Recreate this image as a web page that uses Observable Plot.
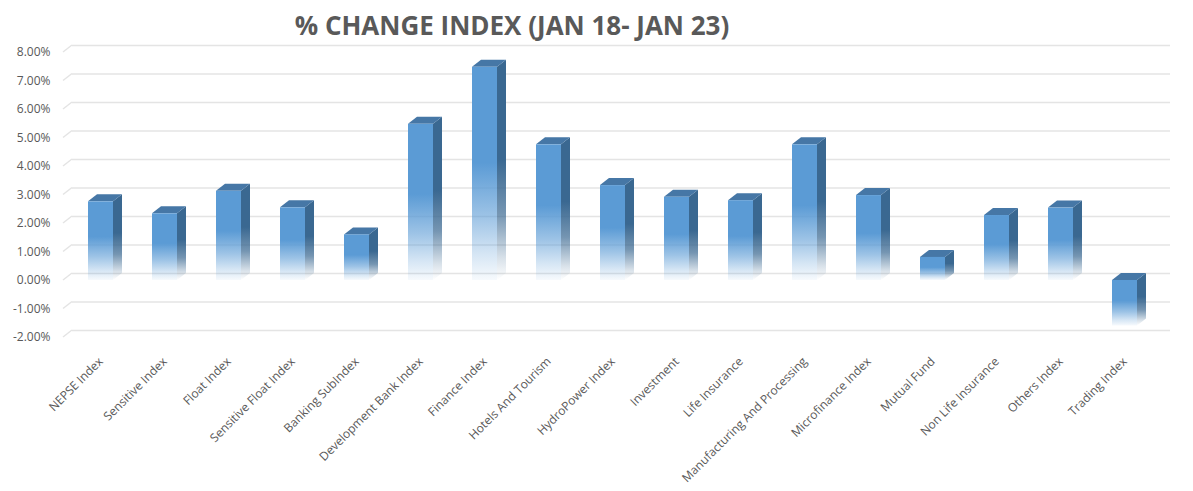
<!DOCTYPE html>
<html><head><meta charset="utf-8">
<script src="https://cdn.jsdelivr.net/npm/d3@7"></script>
<script src="https://cdn.jsdelivr.net/npm/@observablehq/plot@0.6"></script>
<style>
body{margin:0;background:#fff;font-family:"Open Sans",sans-serif;}
#wrap{position:relative;width:1193px;height:491px;overflow:hidden;}
#title{height:38px;position:relative;}
#title span{position:absolute;left:512px;top:9px;transform:translateX(-50%);font-weight:700;font-size:26px;line-height:32px;color:#595959;white-space:nowrap;}
</style></head><body>
<div id="wrap"><div id="title"><span>% CHANGE INDEX (JAN 18- JAN 23)</span></div><div id="chart"></div></div>
<script>
const categories = ["NEPSE Index","Sensitive Index","Float Index","Sensitive Float Index","Banking SubIndex","Development Bank Index","Finance Index","Hotels And Tourism","HydroPower Index","Investment","Life Insurance","Manufacturing And Processing","Microfinance Index","Mutual Fund","Non Life Insurance","Others Index","Trading Index"];
const values = [2.76, 2.34, 3.13, 2.55, 1.60, 5.48, 7.48, 4.76, 3.33, 2.92, 2.80, 4.76, 2.98, 0.81, 2.28, 2.54, -1.60];
const yTicks = [-2,-1,0,1,2,3,4,5,6,7,8];

const data = categories.map((c, i) => ({category: c, value: values[i]}));
const DX = 9, DY = -7;

function depthMark(index, scales, channels, dimensions) {
  const x = scales.x, y = scales.y;
  const n = categories.length;
  const bw = typeof x.bandwidth === "function" ? x.bandwidth()
    : (dimensions.width - dimensions.marginLeft - dimensions.marginRight) / n * 0.39;
  const g = d3.create("svg:g");
  const defs = g.append("defs");
  const fg = defs.append("linearGradient").attr("id","frontGrad").attr("x1",0).attr("y1",0).attr("x2",0).attr("y2",1);
  [[0,1],[0.45,1],[0.7,0.6],[0.88,0.25],[1,0.05]].forEach(([o,a]) => fg.append("stop").attr("offset",o).attr("stop-color","#5b9bd5").attr("stop-opacity",a));
  const sg = defs.append("linearGradient").attr("id","sideGrad").attr("x1",0).attr("y1",0).attr("x2",0).attr("y2",1);
  [[0,1],[0.45,1],[0.7,0.7],[0.9,0.2],[1,0.0]].forEach(([o,a]) => sg.append("stop").attr("offset",o).attr("stop-color","#3a6891").attr("stop-opacity",a));
  // left diagonals of the back-wall gridlines
  const ml = dimensions.marginLeft;
  for (const t of yTicks) {
    g.append("line").attr("x1", ml).attr("y1", y(t)).attr("x2", ml + DX).attr("y2", y(t) + DY)
      .attr("stroke", "#e4e4e4").attr("stroke-width", 1.5);
  }
  for (const d of data) {
    const x0 = x(d.category), x1 = x0 + bw;
    const yt = y(Math.max(d.value, 0)), yb = y(Math.min(d.value, 0));
    g.append("polygon")
      .attr("points", `${x1},${yt} ${x1+DX},${yt+DY} ${x1+DX},${yb+DY} ${x1},${yb}`)
      .attr("fill", "url(#sideGrad)");
    g.append("polygon")
      .attr("points", `${x0},${yt} ${x0+DX},${yt+DY} ${x1+DX},${yt+DY} ${x1},${yt}`)
      .attr("fill", "#4677a6");
  }
  return g.node();
}

const chart = Plot.plot({
  width: 1193,
  height: 453,
  marginTop: 14,
  marginLeft: 63,
  marginRight: 32,
  marginBottom: 154,
  style: {fontFamily: "'Open Sans', sans-serif", fontSize: "12px", color: "#595959", background: "#fff"},
  x: {domain: categories, paddingInner: 0.61, paddingOuter: 0.305, tickRotate: -45, tickSize: 0, tickPadding: 22, label: null},
  y: {domain: [-2, 8], ticks: yTicks, tickFormat: d => d.toFixed(2) + "%", tickSize: 0, tickPadding: 13, label: null},
  marks: [
    Plot.ruleY(yTicks, {dx: DX, dy: DY, stroke: "#e4e4e4", strokeWidth: 1.5}),
    depthMark,
    Plot.barY(data, {x: "category", y: "value", fill: "url(#frontGrad)"})
  ]
});
document.getElementById("chart").appendChild(chart);
</script>
</body></html>
